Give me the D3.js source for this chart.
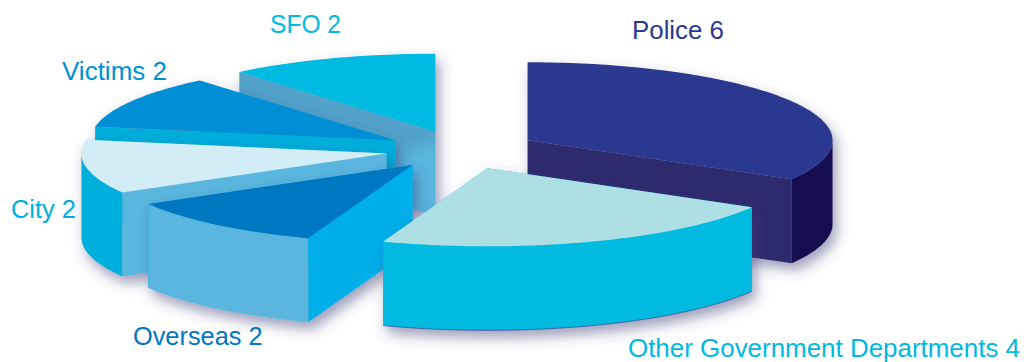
<!DOCTYPE html>
<html>
<head>
<meta charset="utf-8">
<style>
  html, body { margin: 0; padding: 0; background: #fff; }
  svg { display: block; }
  text { font-family: "Liberation Sans", Arial, sans-serif; }
</style>
<script src="https://cdn.jsdelivr.net/npm/d3@7/dist/d3.min.js"></script>
</head>
<body>
<svg id="chart" width="1027" height="362"></svg>
<script>
// Case referrals by source
const categories = ["Police", "Other Government Departments", "Overseas", "City", "Victims", "SFO"];
const values = [6, 4, 2, 2, 2, 2];

// Painted back to front so nearer slices overlap farther ones
const paintOrder = ["SFO", "Police", "Victims", "City", "Overseas", "Other Government Departments"];

const topColors = ["#2a388f", "#aedfe5", "#0078c1", "#d2edf5", "#008fd5", "#00bbe1"];
const rimColors = ["#140a4f", "#00bae0", "#5ab6de", "#00b0dc", "#00aeda", "#5ab6de"];
const cutColors = ["#2e2a6e", "#00bae0", "#00aee8", "#5ab6de", "#00aeda", "#5ab6de"];
const labelColors = ["#2b3990", "#00b9e0", "#0076bf", "#00aee0", "#008fd5", "#00bbe1"];

// Caption placement: left edge, baseline and fitted run length
const labelX = [632, 628, 133, 11, 62, 270];
const labelY = [39, 357, 345, 218, 80, 33];
const labelLength = [92, 392, 129.5, 65, 105, 71];
const labelSize = 25.6;

// Projection of the tilted pie
const centre = { x: 461.5, y: 150 };
const radiusX = 305, radiusY = 78;
const depth = 84;
const explode = 0.25;

const projX = d3.scaleLinear().domain([-1, 1]).range([-radiusX, radiusX]);
const projY = d3.scaleLinear().domain([-1, 1]).range([-radiusY, radiusY]);

const svg = d3.select("#chart");

const defs = svg.append("defs");
const shadow = defs.append("filter").attr("id", "softShadow")
  .attr("x", "-15%").attr("y", "-15%").attr("width", "130%").attr("height", "145%");
shadow.append("feDropShadow")
  .attr("dx", 4).attr("dy", 7).attr("stdDeviation", 6.5)
  .attr("flood-color", "#3c3c78").attr("flood-opacity", 0.5);

const pie = d3.pie().sort(null).startAngle(0).endAngle(2 * Math.PI);
const arcs = pie(values).map((d, i) => ({ ...d, name: categories[i], i }));

const rimPoint = (a) => [projX(Math.sin(a)), projY(-Math.cos(a))];
const rimPoints = (a0, a1) => {
  const n = Math.max(2, Math.ceil((a1 - a0) / 0.02));
  return d3.range(n + 1).map(k => rimPoint(a0 + (a1 - a0) * k / n));
};
const lift = (pts, dy) => pts.map(([x, y]) => [x, y + dy]);
const closed = d3.line().curve(d3.curveLinearClosed);
const open = d3.line();

const slices = svg.append("g").selectAll("g")
  .data(paintOrder.map(n => arcs.find(a => a.name === n)))
  .join("g")
  .attr("filter", "url(#softShadow)")
  .attr("transform", d => {
    const mid = (d.startAngle + d.endAngle) / 2;
    const [ox, oy] = rimPoint(mid);
    return `translate(${centre.x + ox * explode},${centre.y + oy * explode})`;
  });

slices.each(function (d) {
  const g = d3.select(this);
  const a0 = d.startAngle, a1 = d.endAngle;

  // Radial cut faces
  [a0, a1].forEach(a => {
    if (a <= 0 || a >= Math.PI * 2) return;
    const p = rimPoint(a);
    const face = closed([[0, 0], p, [p[0], p[1] + depth], [0, depth]]);
    g.append("path").attr("d", face).attr("fill", cutColors[d.i]);

    // The SFO face sits under its own overhang: shade it along the top edge
    if (d.name === "SFO") {
      const len = Math.hypot(p[0], p[1]);
      const gid = "overhang";
      const grad = defs.append("linearGradient").attr("id", gid)
        .attr("gradientUnits", "userSpaceOnUse")
        .attr("x1", 0).attr("y1", 0)
        .attr("x2", p[1] / len * -20).attr("y2", p[0] / len * -20);
      grad.append("stop").attr("offset", 0).attr("stop-color", "#2f4f7a").attr("stop-opacity", 0.2);
      grad.append("stop").attr("offset", 1).attr("stop-color", "#2f4f7a").attr("stop-opacity", 0);
      g.append("path").attr("d", face).attr("fill", `url(#${gid})`);
    }
  });

  // Outer curved wall, only where the rim faces the viewer
  const w0 = Math.max(a0, Math.PI / 2), w1 = Math.min(a1, 3 * Math.PI / 2);
  if (w1 > w0) {
    const rim = rimPoints(w0, w1);
    g.append("path")
      .attr("d", closed(rim.concat(lift(rim, depth).reverse())))
      .attr("fill", rimColors[d.i]);
    if (d.name.startsWith("Other")) {
      g.append("path")
        .attr("d", open(lift(rim, depth)))
        .attr("fill", "none").attr("stroke", "#2a388f").attr("stroke-width", 0.6);
    }
  }

  // Top face
  g.append("path")
    .attr("d", closed([[0, 0]].concat(rimPoints(a0, a1))))
    .attr("fill", topColors[d.i]);
});

svg.append("g").selectAll("text")
  .data(arcs)
  .join("text")
  .attr("x", d => labelX[d.i])
  .attr("y", d => labelY[d.i])
  .attr("font-size", labelSize)
  .attr("textLength", d => labelLength[d.i])
  .attr("lengthAdjust", "spacingAndGlyphs")
  .attr("fill", d => labelColors[d.i])
  .text(d => `${d.name} ${d.value}`);
</script>
</body>
</html>
